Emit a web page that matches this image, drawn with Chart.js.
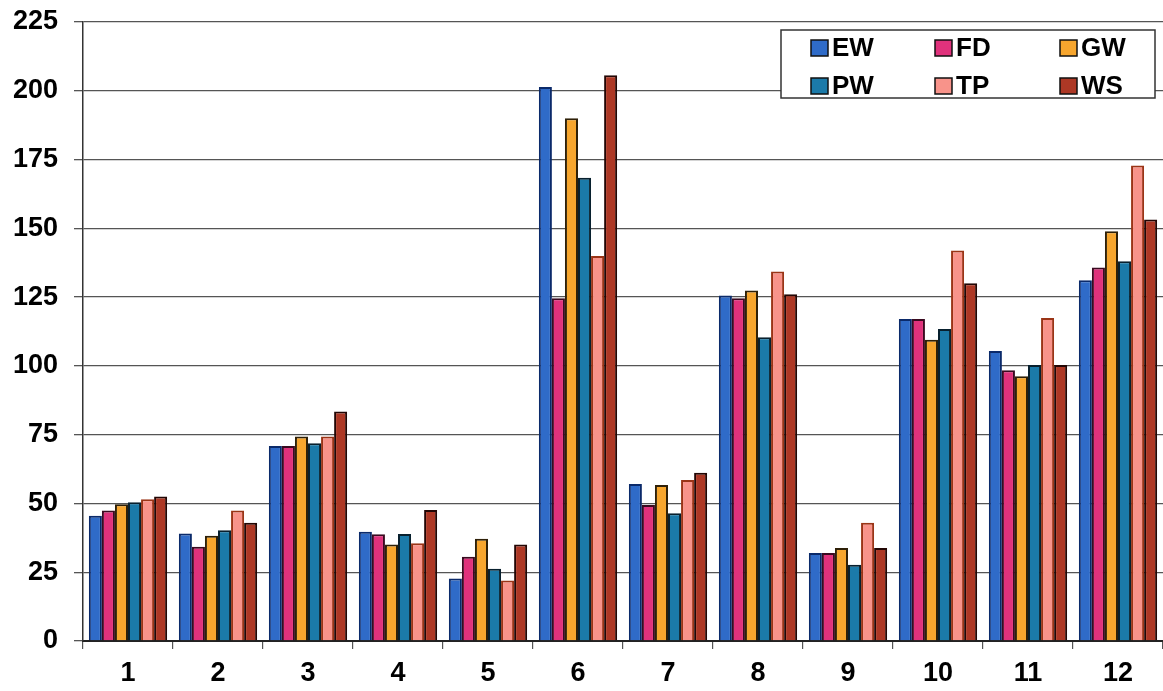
<!DOCTYPE html>
<html>
<head>
<meta charset="utf-8">
<script src="https://cdn.jsdelivr.net/npm/chart.js@4.4.0/dist/chart.umd.min.js"></script>
<style>
html,body{margin:0;padding:0;background:#fff;}
#wrap{width:1163px;height:691px;position:relative;}
</style>
</head>
<body>
<div id="wrap"><canvas id="c" width="1163" height="691"></canvas></div>
<script>
const categories = ['1','2','3','4','5','6','7','8','9','10','11','12'];
const seriesNames = ['EW','FD','GW','PW','TP','WS'];
const EW = [45.5, 39.1, 70.9, 39.7, 22.7, 201.4, 57.1, 125.6, 32.0, 117.0, 105.4, 131.1];
const FD = [47.4, 34.3, 70.9, 38.8, 30.6, 124.6, 49.4, 124.6, 32.0, 117.0, 98.4, 135.8];
const GW = [49.7, 38.3, 74.3, 35.1, 37.2, 190.0, 56.7, 127.4, 33.8, 109.5, 96.2, 148.9];
const PW = [50.4, 40.3, 71.9, 38.9, 26.3, 168.4, 46.4, 110.4, 27.7, 113.4, 100.3, 138.0];
const TP = [51.5, 47.4, 74.3, 35.5, 22.0, 139.9, 58.5, 134.3, 43.0, 141.9, 117.4, 172.8];
const WS = [52.5, 43.0, 83.4, 47.6, 35.1, 205.6, 61.2, 126.0, 33.8, 130.0, 100.3, 153.2];
const yTicks = [0,25,50,75,100,125,150,175,200,225];

const fills = ['#2f6bc8','#e0327c','#f7a62e','#1b7aa9','#f8938a','#ad3825'];
const borders = ['#0b2a6a','#3a0a20','#2e2008','#08202e','#9a3416','#220604'];
const values = [EW, FD, GW, PW, TP, WS];

const FONT = "'Liberation Sans', Arial, sans-serif";

const boxLegend = {
  id: 'boxLegend',
  afterDatasetsDraw(chart) {
    const ctx = chart.ctx;
    const x0 = 781, y0 = 30, w = 374, h = 68;
    ctx.save();
    ctx.fillStyle = '#fff';
    ctx.fillRect(x0, y0, w, h);
    ctx.strokeStyle = '#333';
    ctx.lineWidth = 1.5;
    ctx.strokeRect(x0, y0, w, h);
    ctx.font = "bold 26px " + FONT;
    ctx.textBaseline = 'middle';
    ctx.textAlign = 'left';
    const colX = [811, 935, 1060];
    const rowY = [48, 86];
    chart.data.datasets.forEach((ds, i) => {
      const cx = colX[i % 3], cy = rowY[Math.floor(i / 3)];
      ctx.fillStyle = ds.backgroundColor;
      ctx.fillRect(cx, cy - 8, 17, 16);
      ctx.strokeStyle = '#111';
      ctx.lineWidth = 1.5;
      ctx.strokeRect(cx, cy - 8, 17, 16);
      ctx.fillStyle = '#000';
      ctx.fillText(ds.label, cx + 21, cy + 1);
    });
    ctx.restore();
  }
};

new Chart(document.getElementById('c'), {
  type: 'bar',
  data: {
    labels: categories,
    datasets: seriesNames.map((n, i) => ({
      label: n,
      data: values[i],
      backgroundColor: fills[i],
      borderColor: borders[i],
      borderWidth: 2,
      borderSkipped: 'bottom',
      categoryPercentage: 0.87,
      barPercentage: 1.0
    }))
  },
  options: {
    responsive: false,
    animation: false,
    devicePixelRatio: 1,
    layout: { padding: { top: 22, right: 0, left: 0, bottom: 0 } },
    plugins: { legend: { display: false }, tooltip: { enabled: false } },
    scales: {
      x: {
        grid: { display: true, drawOnChartArea: false, offset: true, tickLength: 8, color: '#555', lineWidth: 1.2 },
        border: { display: true, color: '#222', width: 2 },
        ticks: { color: '#000', font: { family: FONT, weight: 'bold', size: 27 }, padding: 8, maxRotation: 0 },
        afterFit(s) { s.height = 50; s.paddingLeft = 0; s.paddingRight = 0; }
      },
      y: {
        min: 0, max: 225,
        afterBuildTicks(s) { s.ticks = yTicks.map(v => ({ value: v })); },
        grid: { color: '#555', lineWidth: 1.3, tickLength: 9 },
        border: { display: true, color: '#333', width: 1.5 },
        ticks: { color: '#000', font: { family: FONT, weight: 'bold', size: 27 }, padding: 16 },
        afterFit(s) { s.width = 83; s.paddingTop = 0; s.paddingBottom = 0; }
      }
    }
  },
  plugins: [boxLegend]
});
</script>
</body>
</html>
